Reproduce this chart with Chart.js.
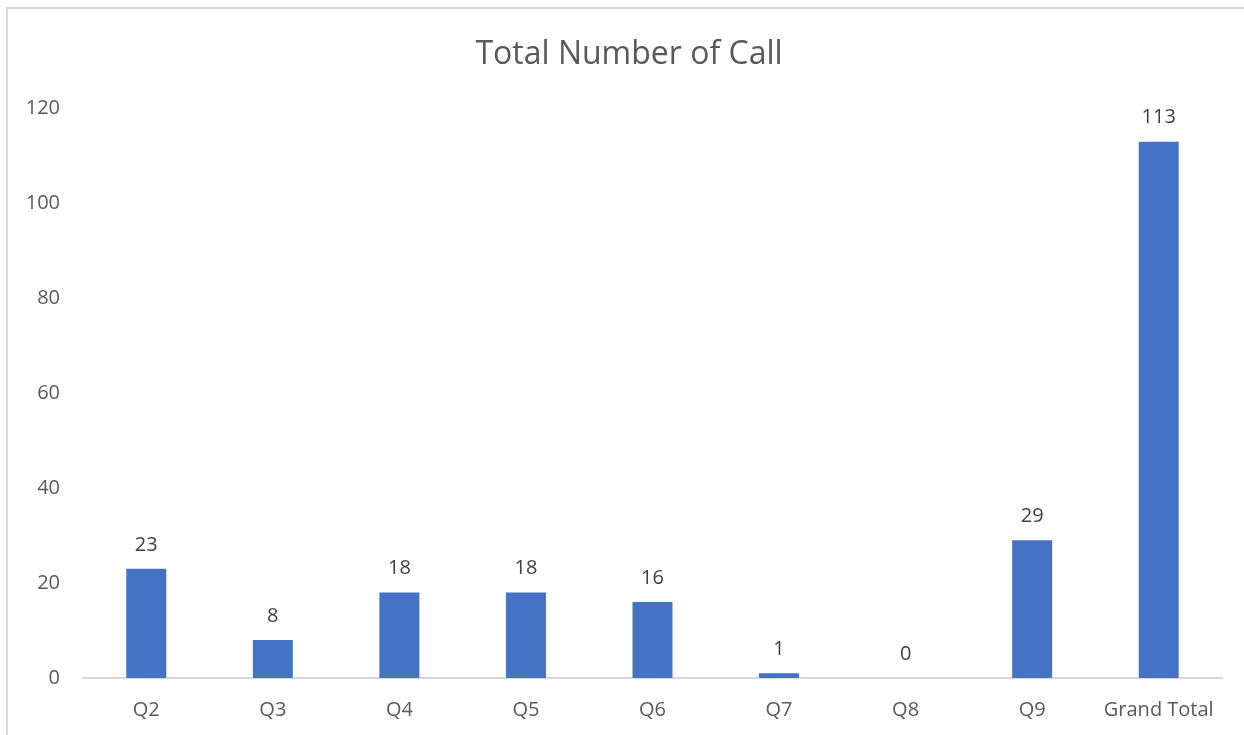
<!DOCTYPE html>
<html>
<head>
<meta charset="utf-8">
<script src="https://cdn.jsdelivr.net/npm/chart.js@4/dist/chart.umd.min.js"></script>
<style>
  html, body { margin: 0; padding: 0; background: #fff; overflow: hidden; }
  #frame {
    position: absolute; left: 6px; top: 7px; width: 1400px; height: 900px;
    border-left: 2px solid #d9d9d9; border-top: 2px solid #d9d9d9;
  }
  #wrap { position: absolute; left: 0; top: 0; width: 1244px; height: 735px; }
</style>
</head>
<body>
<div id="frame"></div>
<div id="wrap"><canvas id="callChart" width="1244" height="735"></canvas></div>
<script>
const categories = ["Q2", "Q3", "Q4", "Q5", "Q6", "Q7", "Q8", "Q9", "Grand Total"];
const callCounts = [23, 8, 18, 18, 16, 1, 0, 29, 113];
const yTicks = [0, 20, 40, 60, 80, 100, 120];

const FONT = "'Open Sans', Lato, sans-serif";

// draws the value above each bar, like Excel's data labels
const barLabels = {
  id: "barLabels",
  afterDatasetsDraw(chart) {
    const { ctx } = chart;
    const meta = chart.getDatasetMeta(0);
    ctx.save();
    ctx.fillStyle = "#404040";
    ctx.font = "20px " + FONT;
    ctx.textAlign = "center";
    ctx.textBaseline = "middle";
    meta.data.forEach((bar, i) => {
      ctx.fillText(String(callCounts[i]), bar.x, bar.y - 24);
    });
    ctx.restore();
  }
};

new Chart(document.getElementById("callChart"), {
  type: "bar",
  data: {
    labels: categories,
    datasets: [{
      label: "Total",
      data: callCounts,
      backgroundColor: "#4472C4",
      borderWidth: 0,
      barPercentage: 0.316,
      categoryPercentage: 1
    }]
  },
  options: {
    responsive: false,
    animation: false,
    layout: { padding: { left: 20, right: 6, top: 0, bottom: 0 } },
    plugins: {
      legend: { display: false },
      tooltip: { enabled: false },
      title: {
        display: true,
        text: "Total Number of Call",
        color: "#595959",
        font: { family: FONT, size: 32, weight: "normal" },
        padding: { top: 36, bottom: 34 }
      }
    },
    scales: {
      x: {
        grid: { display: false, drawTicks: false },
        border: { display: true, color: "#d9d9d9", width: 2 },
        ticks: { color: "#595959", font: { family: FONT, size: 20 }, padding: 20, maxRotation: 0 },
        afterFit(scale) { scale.height = 57; }
      },
      y: {
        min: 0,
        max: 120,
        afterBuildTicks(scale) { scale.ticks = yTicks.map((v) => ({ value: v })); },
        grid: { display: false, drawTicks: false },
        border: { display: false },
        ticks: { color: "#595959", font: { family: FONT, size: 20 }, padding: 23 },
        afterFit(scale) { scale.width = 63; }
      },
      // empty right-hand spacer so the plot ends where Excel's does
      spacer: {
        type: "linear",
        position: "right",
        grid: { display: false, drawTicks: false },
        border: { display: false },
        ticks: { display: false },
        afterFit(scale) { scale.width = 16; }
      }
    }
  },
  plugins: [barLabels]
});
</script>
</body>
</html>
